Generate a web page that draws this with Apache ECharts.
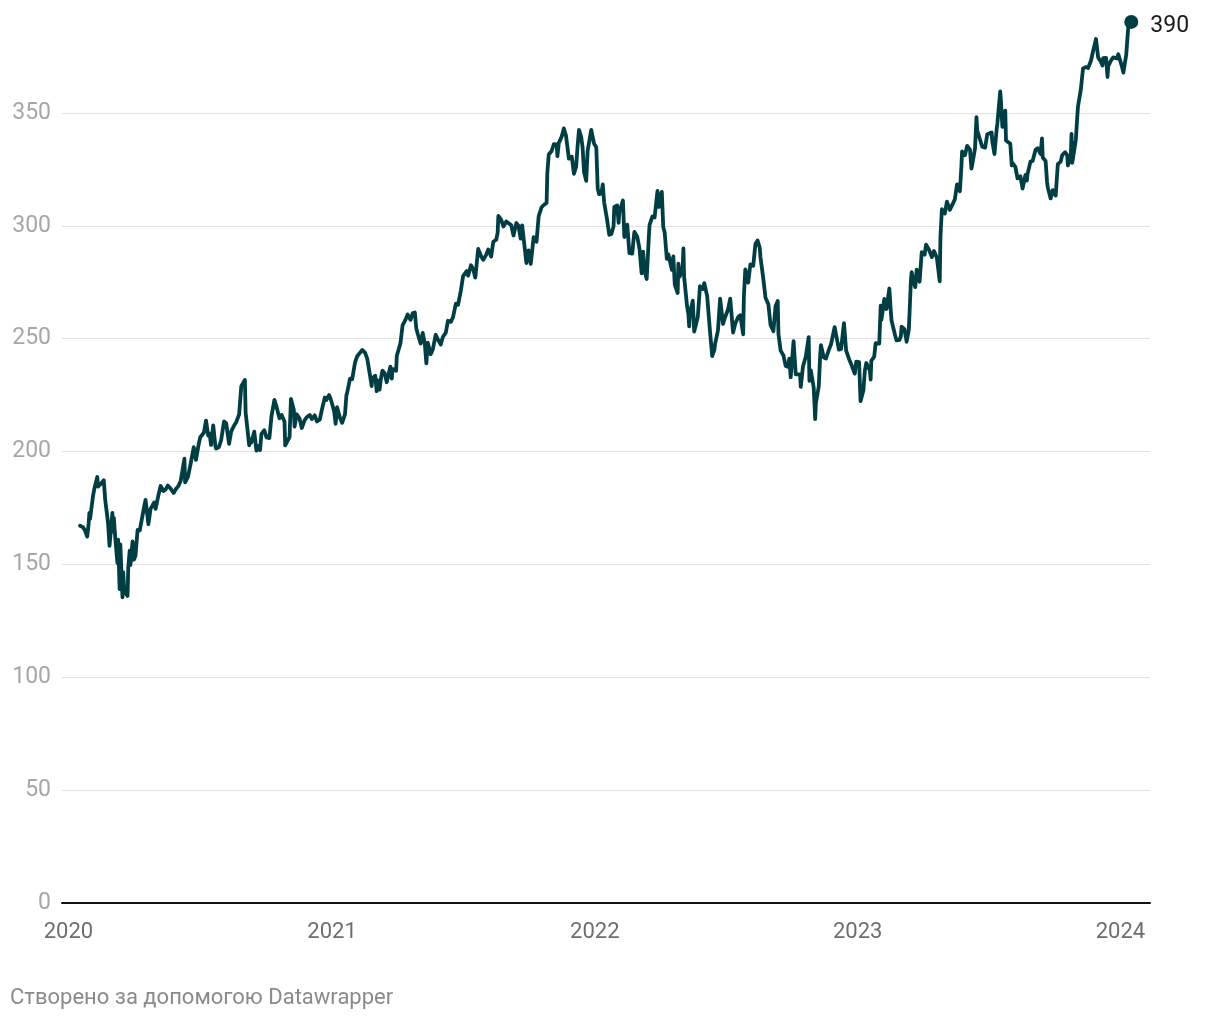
<!DOCTYPE html>
<html>
<head>
<meta charset="utf-8">
<script src="https://cdn.jsdelivr.net/npm/echarts@6/dist/echarts.min.js"></script>
<style>
html,body{margin:0;padding:0;background:#fff;}
#chart{width:1220px;height:1020px;}
#credit{position:absolute;left:10px;top:984px;font-family:Roboto,sans-serif;font-size:22px;color:#8a8a8a;}
</style>
</head>
<body>
<div id="chart"></div>
<div id="credit">Створено за допомогою Datawrapper</div>
<script>
const yTicks = [0, 50, 100, 150, 200, 250, 300, 350];
const xTickLabels = ["2020", "2021", "2022", "2023", "2024"];

const prices2020 = [
["2020-01-17",167.1],["2020-01-21",166.5],["2020-01-24",165.0],["2020-01-27",162.3],["2020-01-29",168.0],["2020-01-30",172.8],["2020-01-31",170.2],
["2020-02-04",180.1],["2020-02-06",183.6],["2020-02-10",188.7],["2020-02-11",184.4],["2020-02-14",185.4],["2020-02-19",187.3],["2020-02-21",178.6],
["2020-02-24",170.9],["2020-02-25",168.1],["2020-02-27",158.2],["2020-03-02",172.8],["2020-03-03",164.5],["2020-03-04",170.6],["2020-03-06",161.6],
["2020-03-09",150.6],["2020-03-10",160.9],["2020-03-12",139.1],["2020-03-13",158.8],["2020-03-16",135.4],["2020-03-17",146.6],["2020-03-18",140.4],
["2020-03-20",137.4],["2020-03-23",136.0],["2020-03-24",148.3],["2020-03-26",156.1],["2020-03-27",149.7],["2020-03-30",160.2],["2020-04-01",152.1],
["2020-04-03",153.8],["2020-04-06",165.3],["2020-04-09",165.1],["2020-04-14",173.7],["2020-04-17",178.6],["2020-04-21",167.8],["2020-04-24",174.6],
["2020-04-29",177.4],["2020-05-01",174.6],["2020-05-05",180.8],["2020-05-08",184.7],["2020-05-12",182.5],["2020-05-15",183.2],["2020-05-18",184.9],
["2020-05-22",183.5],["2020-05-26",181.6],["2020-05-29",183.3],["2020-06-02",184.9],["2020-06-05",187.2],["2020-06-10",196.8],["2020-06-11",186.3],
["2020-06-15",188.9],["2020-06-19",195.2],["2020-06-23",201.9],["2020-06-26",196.3],["2020-06-30",203.5],["2020-07-02",206.3],["2020-07-07",208.3],
["2020-07-10",213.7],["2020-07-13",207.1],["2020-07-15",208.0],["2020-07-17",202.9],["2020-07-20",211.6],["2020-07-23",202.5],["2020-07-24",201.3],
["2020-07-28",202.0],["2020-07-31",205.0],["2020-08-04",213.3],["2020-08-07",212.5],["2020-08-11",203.4],["2020-08-14",208.9],["2020-08-18",211.5],
["2020-08-21",213.0],["2020-08-25",216.5],["2020-08-28",228.9],["2020-09-02",231.7],["2020-09-03",217.3],["2020-09-08",202.7],["2020-09-10",205.4],
["2020-09-11",204.0],["2020-09-15",208.8],["2020-09-18",200.4],["2020-09-21",202.5],["2020-09-23",200.6],["2020-09-25",207.8],["2020-09-29",209.4],
["2020-10-02",206.2],["2020-10-06",205.9],["2020-10-09",215.8],["2020-10-13",222.9],["2020-10-16",219.7],["2020-10-20",214.7],["2020-10-23",216.2],
["2020-10-27",213.3],["2020-10-28",202.7],["2020-10-30",202.5],["2020-11-03",206.4],["2020-11-05",223.3],["2020-11-06",223.7],["2020-11-09",218.4],
["2020-11-10",211.0],["2020-11-13",216.5],["2020-11-17",214.5],["2020-11-20",210.4],["2020-11-24",213.9],["2020-11-27",215.2],["2020-12-01",216.2],
["2020-12-04",214.4],["2020-12-08",216.0],["2020-12-11",213.3],["2020-12-15",214.1],["2020-12-18",218.6],["2020-12-22",223.9],["2020-12-24",222.8],
["2020-12-28",225.0],["2020-12-31",222.4]
];

const prices2021 = [
["2021-01-04",217.7],["2021-01-06",212.3],["2021-01-08",219.6],["2021-01-12",214.9],["2021-01-15",212.7],["2021-01-19",216.4],["2021-01-21",225.0],
["2021-01-22",226.0],["2021-01-26",232.3],["2021-01-27",232.9],["2021-01-29",232.0],["2021-02-02",239.5],["2021-02-05",242.2],["2021-02-09",243.8],
["2021-02-12",245.0],["2021-02-16",243.7],["2021-02-19",241.0],["2021-02-23",233.3],["2021-02-25",229.0],["2021-02-26",232.4],["2021-03-02",233.6],
["2021-03-04",226.7],["2021-03-05",231.6],["2021-03-08",227.4],["2021-03-10",232.4],["2021-03-12",235.8],["2021-03-15",234.8],["2021-03-18",230.7],
["2021-03-19",230.4],["2021-03-23",237.6],["2021-03-25",232.3],["2021-03-26",236.5],["2021-03-31",235.8],["2021-04-01",242.4],["2021-04-06",247.9],
["2021-04-09",255.9],["2021-04-13",258.3],["2021-04-16",260.7],["2021-04-20",258.3],["2021-04-23",261.2],["2021-04-26",261.6],["2021-04-28",254.6],
["2021-04-30",252.2],["2021-05-04",247.8],["2021-05-07",252.5],["2021-05-10",247.2],["2021-05-12",239.0],["2021-05-14",248.2],["2021-05-18",243.1],
["2021-05-21",245.2],["2021-05-25",251.7],["2021-05-28",249.7],["2021-06-01",247.4],["2021-06-04",250.8],["2021-06-08",252.6],["2021-06-11",257.9],
["2021-06-15",257.4],["2021-06-18",259.4],["2021-06-22",265.5],["2021-06-25",265.0],["2021-06-29",271.4],["2021-07-02",277.7],["2021-07-07",279.9],
["2021-07-09",277.9],["2021-07-13",282.5],["2021-07-16",280.8],["2021-07-19",277.0],["2021-07-23",289.7],["2021-07-27",286.5],["2021-07-30",284.9],
["2021-08-03",287.1],["2021-08-06",289.5],["2021-08-10",286.4],["2021-08-13",292.9],["2021-08-17",293.8],["2021-08-19",296.8],["2021-08-20",304.4],
["2021-08-24",302.6],["2021-08-27",299.7],["2021-08-31",301.9],["2021-09-02",301.2],["2021-09-07",300.2],["2021-09-10",295.7],["2021-09-14",301.2],
["2021-09-17",299.9],["2021-09-20",294.3],["2021-09-22",300.2],["2021-09-24",299.4],["2021-09-28",283.5],["2021-10-01",289.1],["2021-10-04",283.1],
["2021-10-08",294.9],["2021-10-12",292.9],["2021-10-15",304.2],["2021-10-19",308.2],["2021-10-22",309.2],["2021-10-26",310.1],["2021-10-27",323.2],
["2021-10-29",331.6],["2021-11-02",333.1],["2021-11-05",336.1],["2021-11-09",336.0],["2021-11-10",330.8],["2021-11-12",336.7],["2021-11-16",339.5],
["2021-11-19",343.1],["2021-11-22",339.8],["2021-11-26",329.7],["2021-11-30",330.6],["2021-12-01",330.1],["2021-12-03",323.0],["2021-12-06",326.2],
["2021-12-08",335.0],["2021-12-10",342.5],["2021-12-13",339.4],["2021-12-15",334.7],["2021-12-17",323.8],["2021-12-20",319.9],["2021-12-22",333.2],
["2021-12-27",342.5],["2021-12-29",342.0],["2021-12-31",336.3]
];

const prices2022 = [
["2022-01-03",334.8],["2022-01-05",316.4],["2022-01-07",314.0],["2022-01-10",314.3],["2022-01-12",318.3],["2022-01-14",310.2],["2022-01-18",302.7],
["2022-01-21",296.0],["2022-01-24",296.4],["2022-01-26",296.7],["2022-01-27",299.8],["2022-01-28",308.3],["2022-02-01",309.0],["2022-02-03",301.3],
["2022-02-04",305.9],["2022-02-09",311.2],["2022-02-11",295.0],["2022-02-15",300.5],["2022-02-18",287.9],["2022-02-22",287.7],["2022-02-24",294.6],
["2022-02-25",297.3],["2022-03-01",295.0],["2022-03-04",289.9],["2022-03-07",278.9],["2022-03-09",288.5],["2022-03-11",280.1],["2022-03-14",276.4],
["2022-03-17",295.2],["2022-03-18",300.4],["2022-03-22",304.1],["2022-03-25",303.7],["2022-03-29",315.4],["2022-03-31",308.3],["2022-04-04",315.0],
["2022-04-06",299.5],["2022-04-08",297.0],["2022-04-11",285.3],["2022-04-13",287.4],["2022-04-18",280.5],["2022-04-20",286.4],["2022-04-22",274.0],
["2022-04-26",270.2],["2022-04-27",283.2],["2022-04-29",277.5],["2022-05-03",281.8],["2022-05-04",290.0],["2022-05-05",277.4],["2022-05-09",264.6],
["2022-05-11",260.6],["2022-05-12",255.4],["2022-05-13",261.1],["2022-05-17",266.8],["2022-05-19",253.1],["2022-05-20",252.6],["2022-05-24",259.6],
["2022-05-27",273.2],["2022-05-31",271.9],["2022-06-02",274.6],["2022-06-06",268.8],["2022-06-10",253.0],["2022-06-13",242.3],["2022-06-16",245.0],
["2022-06-17",247.7],["2022-06-21",253.7],["2022-06-24",267.7],["2022-06-28",256.5],["2022-07-01",259.6],["2022-07-05",262.9],["2022-07-08",267.7],
["2022-07-12",252.7],["2022-07-15",256.7],["2022-07-19",259.5],["2022-07-22",260.4],["2022-07-26",251.9],["2022-07-27",268.7],["2022-07-29",280.7],
["2022-08-02",274.8],["2022-08-05",282.9],["2022-08-09",282.3],["2022-08-12",291.9],["2022-08-15",293.5],["2022-08-18",290.2],["2022-08-19",286.2],
["2022-08-23",276.4],["2022-08-26",268.1],["2022-08-30",265.2],["2022-09-02",256.1],["2022-09-06",253.3],["2022-09-09",264.5],["2022-09-12",266.7],
["2022-09-13",252.0],["2022-09-16",244.7],["2022-09-20",242.5],["2022-09-23",237.9],["2022-09-26",237.5],["2022-09-28",241.1],["2022-09-30",232.9],
["2022-10-04",248.9],["2022-10-07",234.2],["2022-10-13",234.2],["2022-10-14",228.6],["2022-10-17",237.5],["2022-10-21",242.1],["2022-10-25",250.7],
["2022-10-26",231.3],["2022-10-28",235.9],["2022-11-01",228.2],["2022-11-03",214.3],["2022-11-04",221.4],["2022-11-08",228.9],["2022-11-10",243.0],
["2022-11-11",247.1],["2022-11-15",241.6],["2022-11-18",241.2],["2022-11-22",245.0],["2022-11-25",247.5],["2022-11-30",255.1],["2022-12-02",255.0],
["2022-12-06",245.1],["2022-12-09",245.4],["2022-12-13",256.9],["2022-12-16",244.7],["2022-12-20",241.0],["2022-12-23",238.7],["2022-12-28",234.5],
["2022-12-30",239.8]
];

const prices2023 = [
["2023-01-03",239.6],["2023-01-05",222.3],["2023-01-09",227.1],["2023-01-11",235.8],["2023-01-13",239.2],["2023-01-18",235.8],["2023-01-19",231.9],
["2023-01-20",240.2],["2023-01-24",242.0],["2023-01-26",248.0],["2023-01-27",248.2],["2023-01-31",247.8],["2023-02-02",264.6],["2023-02-03",258.4],
["2023-02-07",267.6],["2023-02-08",266.7],["2023-02-10",263.1],["2023-02-14",272.2],["2023-02-16",262.2],["2023-02-17",258.1],["2023-02-22",251.5],
["2023-02-24",249.2],["2023-02-28",249.4],["2023-03-02",251.1],["2023-03-03",255.3],["2023-03-07",254.2],["2023-03-09",253.7],["2023-03-10",248.6],
["2023-03-13",253.9],["2023-03-14",260.8],["2023-03-16",276.2],["2023-03-17",279.4],["2023-03-21",273.8],["2023-03-22",272.8],["2023-03-24",280.6],
["2023-03-28",275.2],["2023-03-31",288.3],["2023-04-04",287.2],["2023-04-06",291.6],["2023-04-10",289.4],["2023-04-14",286.1],["2023-04-17",288.8],
["2023-04-21",285.8],["2023-04-25",275.4],["2023-04-26",295.4],["2023-04-28",307.3],["2023-05-02",305.4],["2023-05-05",310.7],["2023-05-09",307.0],
["2023-05-12",309.0],["2023-05-16",311.7],["2023-05-19",318.3],["2023-05-23",315.3],["2023-05-25",325.9],["2023-05-26",332.9],["2023-05-30",331.2],
["2023-06-02",335.4],["2023-06-06",333.7],["2023-06-08",325.3],["2023-06-09",326.8],["2023-06-13",334.3],["2023-06-15",348.1],["2023-06-16",342.3],
["2023-06-20",338.1],["2023-06-23",335.0],["2023-06-27",334.6],["2023-06-30",340.5],["2023-07-06",341.3],["2023-07-07",337.2],["2023-07-10",331.8],
["2023-07-13",342.7],["2023-07-14",345.2],["2023-07-18",359.5],["2023-07-19",355.1],["2023-07-21",343.8],["2023-07-25",351.0],["2023-07-26",337.8],
["2023-07-28",338.4],["2023-08-01",336.3],["2023-08-03",326.7],["2023-08-04",327.8],["2023-08-08",326.1],["2023-08-11",321.0],["2023-08-15",321.9],
["2023-08-18",316.5],["2023-08-22",322.5],["2023-08-24",320.0],["2023-08-25",323.0],["2023-08-29",328.4],["2023-09-01",328.7],["2023-09-05",333.6],
["2023-09-08",334.3],["2023-09-12",331.8],["2023-09-14",338.7],["2023-09-15",330.2],["2023-09-19",328.7],["2023-09-21",319.5],["2023-09-22",317.0],
["2023-09-26",312.1],["2023-09-29",315.8],["2023-10-03",313.4],["2023-10-06",327.3],["2023-10-10",328.4],["2023-10-12",331.2],["2023-10-16",332.6],
["2023-10-19",331.3],["2023-10-20",326.7],["2023-10-24",330.5],["2023-10-25",340.7],["2023-10-26",327.9],["2023-10-27",329.8],["2023-10-31",338.1],
["2023-11-02",348.3],["2023-11-03",352.8],["2023-11-07",360.5],["2023-11-10",369.7],["2023-11-14",370.3],["2023-11-17",369.9],["2023-11-21",373.1],
["2023-11-24",377.4],["2023-11-28",382.7],["2023-12-01",374.5],["2023-12-05",372.5],["2023-12-07",371.0],["2023-12-08",374.2],["2023-12-12",374.4],
["2023-12-14",365.9],["2023-12-15",370.7],["2023-12-19",373.3],["2023-12-21",373.5],["2023-12-22",374.6],["2023-12-27",374.1],["2023-12-29",376.0]
];

const prices2024 = [
["2024-01-03",370.6],["2024-01-05",367.8],["2024-01-09",375.8],["2024-01-11",384.6],["2024-01-12",388.5],["2024-01-16",390.3]
];

const allPrices = [].concat(prices2020, prices2021, prices2022, prices2023, prices2024);
const lastPoint = allPrices[allPrices.length - 1];

const chart = echarts.init(document.getElementById('chart'), null, {renderer: 'canvas'});
chart.setOption({
  animation: false,
  backgroundColor: '#ffffff',
  grid: {left: 62, right: 70, top: 0, bottom: 117, containLabel: false},
  xAxis: {
    type: 'time',
    min: '2019-12-23',
    max: '2024-02-11',
    splitNumber: 4,
    minInterval: 365 * 24 * 3600 * 1000,
    axisLine: {show: true, lineStyle: {color: '#111', width: 2}},
    axisTick: {show: false},
    splitLine: {show: false},
    axisLabel: {
      show: true,
      showMinLabel: false,
      showMaxLabel: false,
      margin: 18,
      color: '#6e6e6e',
      fontFamily: 'Roboto',
      fontSize: 22,
      formatter: function (v) {
        const d = new Date(v);
        const y = String(d.getFullYear());
        return (d.getMonth() === 0 && d.getDate() === 1 && xTickLabels.indexOf(y) >= 0) ? y : '';
      }
    }
  },
  yAxis: {
    type: 'value',
    min: 0,
    max: 400,
    interval: 50,
    axisLine: {show: false},
    axisTick: {show: false},
    splitLine: {show: true, showMaxLine: false, showMinLine: false, lineStyle: {color: '#e2e2e2', width: 1}},
    axisLabel: {
      showMaxLabel: false,
      margin: 11,
      color: '#a6a6a6',
      fontFamily: 'Roboto',
      fontSize: 23,
      formatter: function (v) { return yTicks.indexOf(v) >= 0 ? String(v) : ''; }
    }
  },
  series: [
    {
      type: 'line',
      data: allPrices,
      showSymbol: false,
      symbol: 'none',
      lineStyle: {color: '#013e44', width: 3.8, join: 'round', cap: 'round'},
      z: 3
    },
    {
      type: 'scatter',
      data: [lastPoint],
      symbol: 'circle',
      symbolSize: 14,
      itemStyle: {color: '#013e44', opacity: 1},
      label: {
        show: true,
        position: 'right',
        distance: 12,
        offset: [0, 4],
        color: '#1a1a1a',
        fontFamily: 'Roboto',
        fontSize: 23,
        formatter: function (p) { return String(Math.round(p.value[1])); }
      },
      z: 4
    }
  ]
});
</script>
</body>
</html>
